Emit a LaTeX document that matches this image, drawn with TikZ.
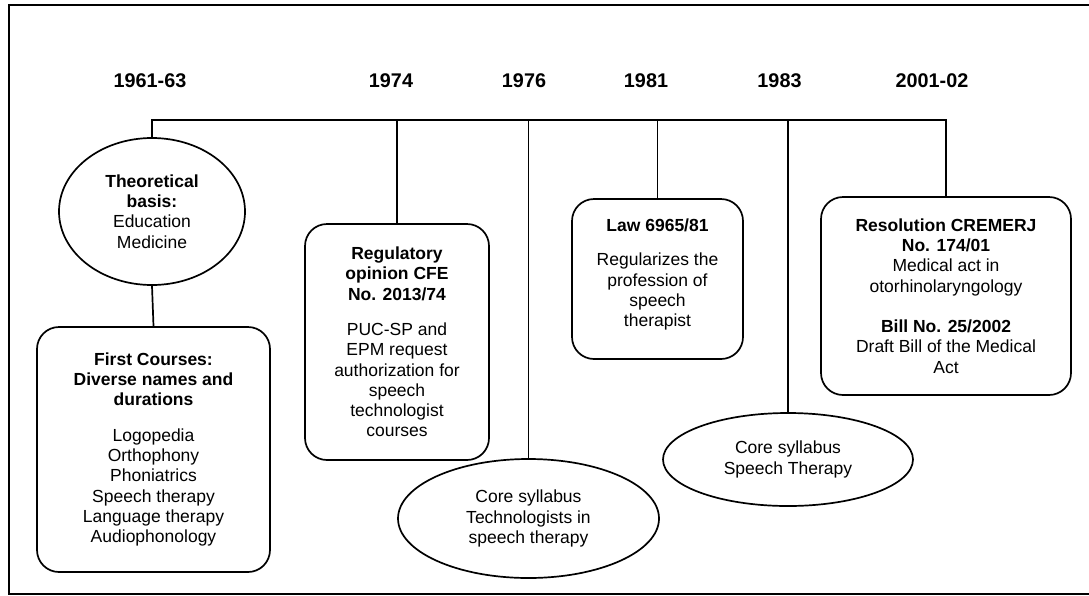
\documentclass[tikz,border=0pt]{standalone}
\usepackage{fontspec}
\setmainfont{Liberation Sans}
\usetikzlibrary{shapes.geometric}
\begin{document}
\begin{tikzpicture}[x=1pt,y=-1pt,line width=1.7pt,
  every node/.style={font=\fontsize{17.5}{20.3}\selectfont,align=center},
  year/.style={font=\fontsize{19.8}{22}\selectfont\bfseries},
  evbox/.style={draw,rounded corners=22pt,inner sep=0pt},
  evell/.style={draw,ellipse,inner sep=0pt}]
\useasboundingbox (0,0) rectangle (1089,595);
\draw[line width=1.8pt] (1090,5) -- (9,5) -- (9,594) -- (1090,594);
% years
\node[year] (y1) at (150,81) {1961-63};
\node[year] (y2) at (391,81) {1974};
\node[year] (y3) at (524,81) {1976};
\node[year] (y4) at (646,81) {1981};
\node[year] (y5) at (779.5,81) {1983};
\node[year] (y6) at (932,81) {2001-02};
% events
\node[evell,minimum width=186,minimum height=147] (theo) at (152,211.5)
  {\textbf{Theoretical}\\\textbf{basis:}\\Education\\Medicine};
\node[evbox,minimum width=233,minimum height=245] (first) at (153.5,449.5)
  {\textbf{First Courses:}\\\textbf{Diverse names and}\\\textbf{durations}\\[15pt]Logopedia\\Orthophony\\Phoniatrics\\Speech therapy\\Language therapy\\Audiophonology};
\node[evbox,minimum width=184,minimum height=236] (reg) at (397,342)
  {\textbf{Regulatory}\\\textbf{opinion CFE}\\\textbf{No. 2013/74}\\[15pt]PUC-SP and\\EPM request\\authorization for\\speech\\technologist\\courses};
\node[evell,minimum width=261,minimum height=119] (tech) at (528.5,518.5)
  {Core syllabus\\Technologists in\\speech therapy};
\node[evbox,minimum width=171,minimum height=160] (law) at (657.5,279)
  {\textbf{Law 6965/81}\\[14pt]Regularizes the\\profession of\\speech\\therapist\\[-8pt]\mbox{}};
\node[evell,minimum width=250,minimum height=93] (st) at (788,459.5)
  {Core syllabus\\Speech Therapy};
\node[evbox,minimum width=250,minimum height=198] (res) at (946,296)
  {\textbf{Resolution CREMERJ}\\\textbf{No. 174/01}\\Medical act in\\otorhinolaryngology\\[20pt]\textbf{Bill No. 25/2002}\\Draft Bill of the Medical\\Act};
% timeline
\coordinate (tl) at (152,120);
\coordinate (tr) at (946,120);
\draw (theo.north) -- (tl) -- (tr) -- (res.north);
\draw (theo.south) -- (first.north);
\draw (reg.north) -- (reg.north |- tl);
\draw (tech.north) -- (tech.north |- tl);
\draw (law.north) -- (law.north |- tl);
\draw (st.north) -- (st.north |- tl);
\end{tikzpicture}
\end{document}
